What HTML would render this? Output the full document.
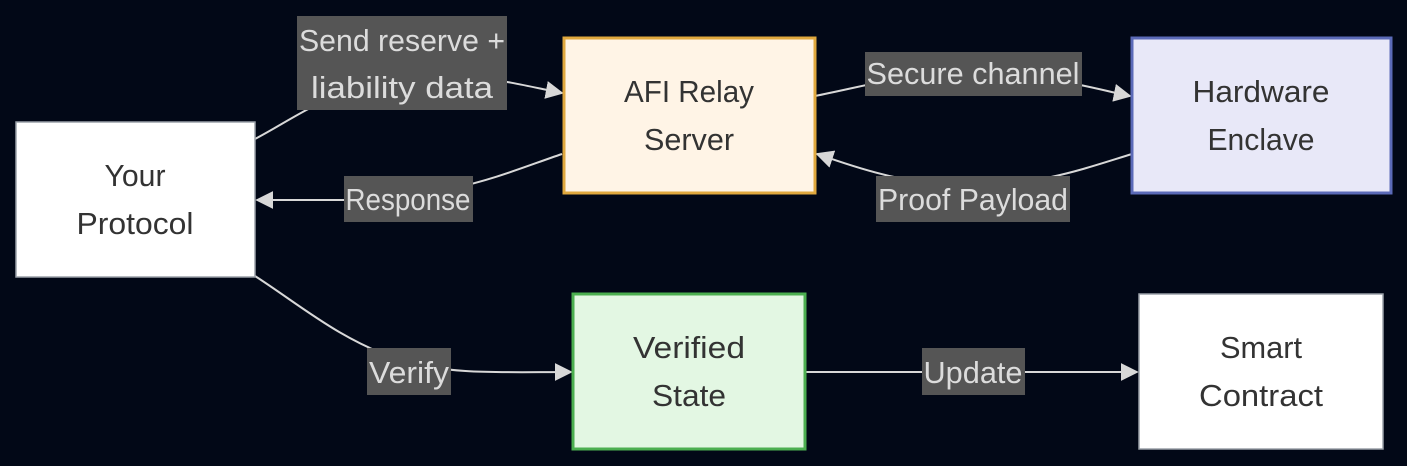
<!DOCTYPE html>
<html><head><meta charset="utf-8"><style>
html,body{margin:0;padding:0;background:#020817;}
svg{display:block;}
text{font-family:"Liberation Sans","DejaVu Sans",sans-serif;}
</style></head><body>
<svg width="1407" height="466" viewBox="0 0 1407 466">
<defs>
<marker id="b" viewBox="0 0 10 10" refX="9" refY="5" markerWidth="18" markerHeight="18" markerUnits="userSpaceOnUse" orient="auto"><path d="M0,0L10,5L0,10z" fill="#d8d8d8"/></marker></defs>
<rect width="1407" height="466" fill="#020817"/>
<g fill="none" stroke="#d8d8d8" stroke-width="2">
<path d="M255,139 C300,115 330,90 400,78 C470,70 520,85 562,93" marker-end="url(#b)"/>
<path d="M562,154 C500,175 450,200 330,200 L257,200" marker-end="url(#b)"/>
<path d="M815,96 C870,85 920,70 980,72 C1050,75 1100,90 1130,96" marker-end="url(#b)"/>
<path d="M1132,154 C1080,170 1040,185 970,185 C900,185 850,165 817,154" marker-end="url(#b)"/>
<path d="M255,276 C300,305 340,340 400,360 C450,375 500,372 571,372" marker-end="url(#b)"/>
<path d="M805,372 L1137,372" marker-end="url(#b)"/>
</g>
<rect x="16" y="122" width="239" height="155" fill="#ffffff" stroke="#9aa0a8" stroke-width="1.5"/>
<rect x="564" y="38" width="251" height="155" fill="#fff4e6" stroke="#e0a83e" stroke-width="3"/>
<rect x="1132" y="38" width="259" height="155" fill="#e8e8f8" stroke="#5b6ab8" stroke-width="3"/>
<rect x="573" y="294" width="232" height="155" fill="#e3f7e3" stroke="#4caf50" stroke-width="3"/>
<rect x="1139" y="294" width="244" height="155" fill="#ffffff" stroke="#9aa0a8" stroke-width="1.5"/>
<g font-size="31" fill="#333" text-anchor="middle" lengthAdjust="spacingAndGlyphs">
<text x="135" y="186" textLength="61" lengthAdjust="spacingAndGlyphs">Your</text><text x="135" y="234" textLength="117" lengthAdjust="spacingAndGlyphs">Protocol</text>
<text x="689" y="102" textLength="130" lengthAdjust="spacingAndGlyphs">AFI Relay</text><text x="689" y="150" textLength="90" lengthAdjust="spacingAndGlyphs">Server</text>
<text x="1261" y="102" textLength="137" lengthAdjust="spacingAndGlyphs">Hardware</text><text x="1261" y="150" textLength="107" lengthAdjust="spacingAndGlyphs">Enclave</text>
<text x="689" y="358" textLength="112" lengthAdjust="spacingAndGlyphs">Verified</text><text x="689" y="406" textLength="74" lengthAdjust="spacingAndGlyphs">State</text>
<text x="1261" y="358" textLength="82" lengthAdjust="spacingAndGlyphs">Smart</text><text x="1261" y="406" textLength="124" lengthAdjust="spacingAndGlyphs">Contract</text>
</g>
<g fill="#555555">
<rect x="297" y="16" width="210" height="94"/>
<rect x="865" y="52" width="217" height="44"/>
<rect x="344" y="176" width="129" height="46"/>
<rect x="876" y="176" width="194" height="46"/>
<rect x="367" y="348" width="84" height="47"/>
<rect x="922" y="348" width="103" height="47"/>
</g>
<g font-size="31" fill="#dcdcdc" text-anchor="middle">
<text x="402" y="51" textLength="206" lengthAdjust="spacingAndGlyphs">Send reserve +</text><text x="402" y="98" textLength="182" lengthAdjust="spacingAndGlyphs">liability data</text>
<text x="973" y="84" textLength="213" lengthAdjust="spacingAndGlyphs">Secure channel</text>
<text x="408" y="210" textLength="125" lengthAdjust="spacingAndGlyphs">Response</text>
<text x="973" y="210" textLength="190" lengthAdjust="spacingAndGlyphs">Proof Payload</text>
<text x="409" y="383" textLength="80" lengthAdjust="spacingAndGlyphs">Verify</text>
<text x="973" y="383" textLength="99" lengthAdjust="spacingAndGlyphs">Update</text>
</g>
</svg>
</body></html>
